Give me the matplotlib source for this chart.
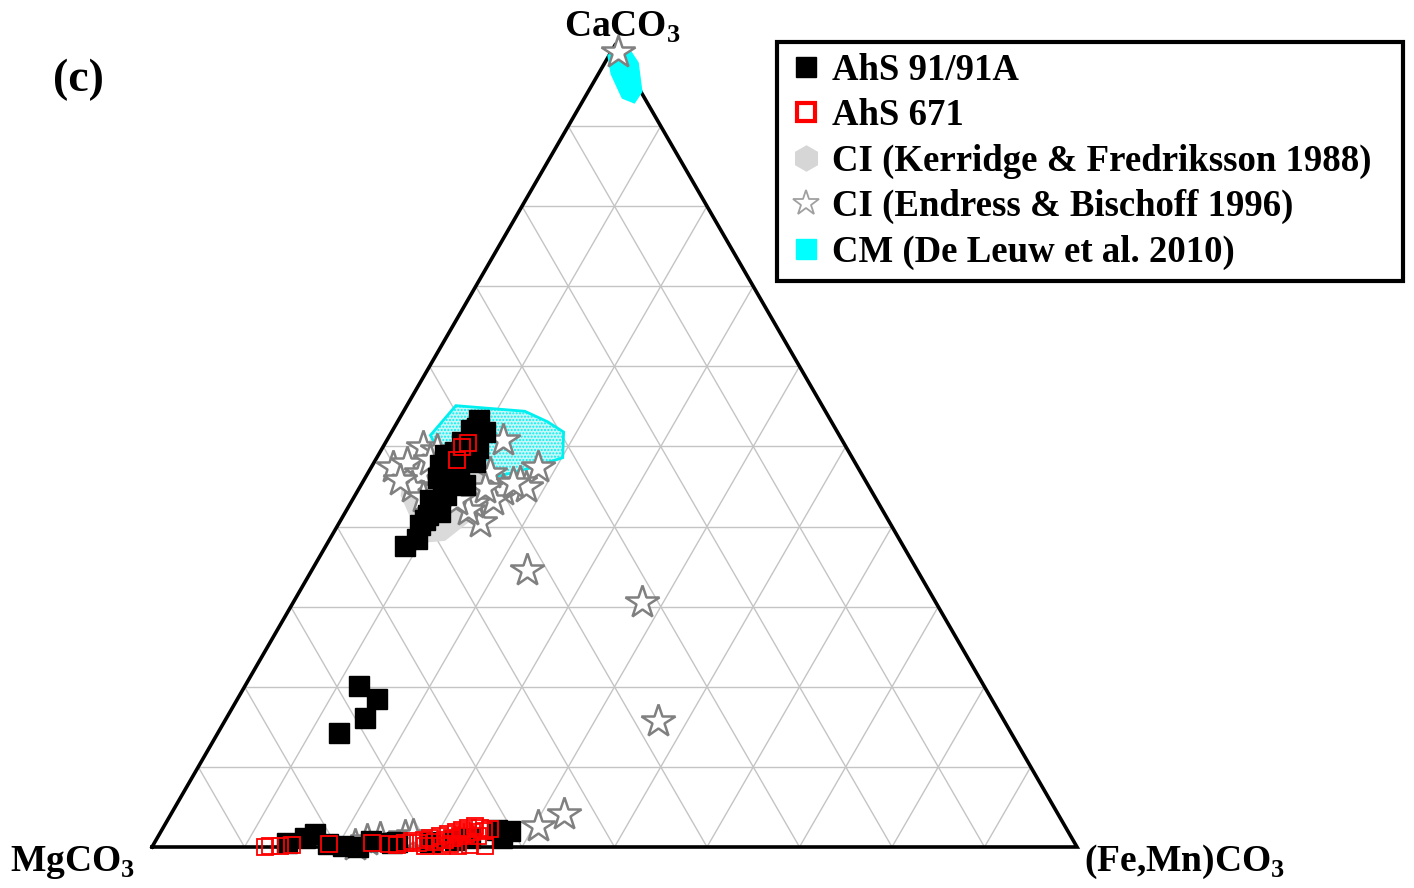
import matplotlib
import numpy as np

matplotlib.use('Agg')
from matplotlib import pyplot as plt
from matplotlib.lines import Line2D
from matplotlib.patches import Polygon

plt.rcParams['font.family'] = ['Liberation Serif', 'DejaVu Serif']
plt.rcParams['font.weight'] = 'bold'
plt.rcParams['mathtext.fontset'] = 'custom'
plt.rcParams['mathtext.rm'] = 'Liberation Serif:bold'
plt.rcParams['mathtext.bf'] = 'Liberation Serif:bold'
plt.rcParams['hatch.linewidth'] = 1.0

# compositions in mol% : CaCO3 and (Fe,Mn)CO3, MgCO3 is the remainder
ahs91_ca = [37.6, 38.5, 41.4, 41.8, 43.3, 43.9, 45.2, 45.6, 46.8, 47.1, 48.1, 48.3, 49.3, 49.3,
            50.6, 50.8, 52.1, 52.3, 53.3, 40.2,
            46.1, 47.7, 48.9, 48.1, 49.8, 51.8, 45.2, 43.3, 40.8,
            20.1, 18.5, 16.1, 14.2,
            0.5, 1.1, 1.6, 0.4, 0.1, 0.0, 0.7, 0.5, 0.6, 0.9, 1.1, 2.1, 2.0, 1.1, 0.6]
ahs91_fe = [8.6, 9.4, 9.1, 10.2, 9.1, 9.8, 8.9, 9.6, 8.6, 9.6, 8.2, 9.3, 8.1, 9.5,
            8.2, 9.2, 8.4, 9.0, 8.7, 8.9,
            7.9, 7.3, 7.2, 10.9, 10.3, 10.1, 11.2, 8.4, 9.1,
            12.3, 15.1, 15.0, 13.1,
            14.3, 16.0, 16.8, 18.8, 20.6, 22.3, 23.3, 25.7, 26.2, 32.3, 33.8, 36.2, 37.7, 37.3, 29.8]

ahs671_ca = [0.0, 0.1, 0.1, 0.2, 0.4, 0.5, 0.4, 0.2,
             0.5, 0.7, 0.5, 0.9, 1.1, 0.6, 1.4, 0.9, 1.6, 1.1, 1.9, 1.4, 2.1, 1.6, 2.4, 1.9,
             2.6, 1.4, 2.4, 2.0, 0.1, 0.2, 0.1, 0.1, 2.2, 0.1, 0.4,
             49.9, 50.4, 48.3]
ahs671_fe = [12.2, 12.7, 13.8, 15.0, 18.9, 23.5, 25.4, 26.4,
             27.1, 27.8, 28.5, 29.0, 29.5, 30.3, 30.4, 31.2, 31.2, 31.9, 31.9, 32.6, 32.5, 33.1, 33.0, 33.6,
             33.6, 34.5, 34.3, 34.9, 36.0, 34.3, 33.0, 31.3, 35.4, 29.5, 32.0,
             8.6, 9.0, 8.8]

endress_ca = [99.3, 50.8, 47.4, 45.6, 44.9, 44.6, 43.3, 40.6, 42.9, 49.9, 49.6, 47.4, 47.9, 46.7,
              44.9, 43.7, 46.7, 45.4, 42.1, 43.3, 45.8, 44.8, 48.3,
              34.6, 30.6, 15.7, 4.1, 2.6,
              0.2, 0.9, 1.1, 1.4, 1.5]
endress_fe = [0.7, 12.5, 18.0, 17.0, 18.0, 15.6, 15.2, 15.2, 13.2, 4.3, 6.0, 2.4, 3.6, 5.7,
              5.7, 7.5, 13.2, 16.3, 13.1, 11.3, 3.9, 13.6, 5.9,
              23.2, 37.7, 46.8, 42.5, 40.4,
              21.8, 22.8, 24.1, 26.7, 27.5]

kerridge_ca = [53.6, 53.3, 50.2, 44.6, 40.8, 38.3, 38.1, 41.4, 43.9, 47.1, 50.8, 52.7]
kerridge_fe = [7.6, 10.7, 12.7, 15.0, 14.0, 12.5, 10.5, 7.2, 5.0, 3.9, 4.7, 6.5]

deleuw_ca = [51.4, 55.1, 54.4, 53.1, 51.8, 48.6, 47.3, 46.3, 47.3, 49.3]
deleuw_fe = [4.4, 5.3, 13.1, 16.2, 18.6, 20.1, 17.2, 14.4, 10.1, 6.4]
deleuw_top_ca = [98.8, 99.9, 99.4, 97.9, 94.3, 92.9, 93.5, 96.5]
deleuw_top_fe = [-0.1, 0.25, 2.0, 3.6, 5.8, 5.7, 4.1, 1.4]

H = np.sqrt(3) / 2


def tern(ca, fe):
    ca = np.asarray(ca) / 100.0
    fe = np.asarray(fe) / 100.0
    return fe + ca / 2, ca * H


fig = plt.figure(figsize=(14.14, 8.88), dpi=100)
ax = fig.add_axes([152 / 1414, 41 / 888, 925 / 1414, 801 / 888])
ax.set_xlim(0, 1)
ax.set_ylim(0, H)
ax.axis('off')

# grid every 10 %
for k in range(1, 10):
    t = k / 10
    ax.plot([t / 2, 1 - t / 2], [t * H, t * H], color='#c4c4c4', lw=1, zorder=1)
    ax.plot([t, t / 2], [0, t * H], color='#c4c4c4', lw=1, zorder=1)
    ax.plot([t, (1 + t) / 2], [0, (1 - t) * H], color='#c4c4c4', lw=1, zorder=1)
ax.plot([0, 1, 0.5, 0], [0, 0, H, 0], color='black', lw=2.6, zorder=2, clip_on=False,
        solid_joinstyle='miter')

kx, ky = tern(kerridge_ca, kerridge_fe)
ax.add_patch(Polygon(np.column_stack([kx, ky]), closed=True, facecolor='#dadada',
                     edgecolor='#dadada', lw=1, zorder=3))
dx, dy = tern(deleuw_ca, deleuw_fe)
ax.add_patch(Polygon(np.column_stack([dx, dy]), closed=True, facecolor='#c9f7f7',
                     edgecolor='#00f0f0', hatch='.....', lw=2, zorder=4))
tx, ty = tern(deleuw_top_ca, deleuw_top_fe)
ax.add_patch(Polygon(np.column_stack([tx, ty]), closed=True, facecolor='#00ffff',
                     edgecolor='#00ffff', lw=1, zorder=4, clip_on=False))

sx, sy = tern(endress_ca, endress_fe)
ax.plot(sx, sy, ls='none', marker='*', ms=25, mfc='white', mec='#808080', mew=1.8,
        zorder=5, clip_on=False)
bx, by = tern(ahs91_ca, ahs91_fe)
ax.plot(bx, by, ls='none', marker='s', ms=14.5, mfc='black', mec='black', zorder=6,
        clip_on=False)
rx, ry = tern(ahs671_ca, ahs671_fe)
ax.plot(rx, ry, ls='none', marker='s', ms=11.5, mfc='none', mec='red', mew=1.3, zorder=7,
        clip_on=False)

handles = [
    Line2D([], [], ls='none', marker='s', ms=15, color='black'),
    Line2D([], [], ls='none', marker='s', ms=13, mfc='white', mec='red', mew=3),
    Line2D([], [], ls='none', marker='h', ms=18, color='#d6d6d6'),
    Line2D([], [], ls='none', marker='*', ms=19, mfc='white', mec='#a0a0a0', mew=1.3),
    Line2D([], [], ls='none', marker='s', ms=15, color='#00ffff'),
]
labels = ['AhS 91/91A', 'AhS 671', 'CI (Kerridge & Fredriksson 1988)',
          'CI (Endress & Bischoff 1996)', 'CM (De Leuw et al. 2010)']
leg = fig.legend(handles, labels, loc='upper left',
                 bbox_to_anchor=(777 / 1414, 1 - 280 / 888, 626 / 1414, 238 / 888), mode='expand',
                 fontsize=26.5, frameon=True, fancybox=False, edgecolor='black', framealpha=1,
                 borderpad=0.3, labelspacing=0.28, handlelength=1.0, handletextpad=0.2,
                 borderaxespad=0)
leg.get_frame().set_linewidth(3)

fig.text(622 / 1414, 1 - 27 / 888, r'CaCO$_\mathregular{3}$', fontsize=27, ha='center', va='center')
fig.text(73 / 1414, 1 - 862 / 888, r'MgCO$_\mathregular{3}$', fontsize=27, ha='center', va='center')
fig.text(1185 / 1414, 1 - 862 / 888, r'(Fe,Mn)CO$_\mathregular{3}$', fontsize=27, ha='center',
         va='center')
fig.text(78 / 1414, 1 - 80 / 888, '(c)', fontsize=33, ha='center', va='center')

fig.savefig('out.png', dpi=100)
